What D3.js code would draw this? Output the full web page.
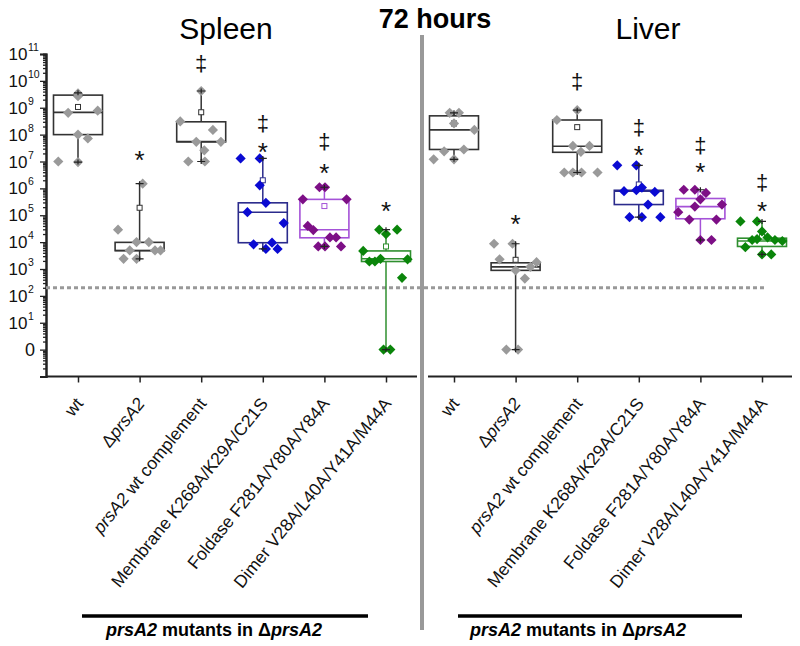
<!DOCTYPE html>
<html><head><meta charset="utf-8">
<script src="https://cdn.jsdelivr.net/npm/d3@7"></script>
<style>body{margin:0;background:#fff}svg{display:block}</style>
</head><body>
<svg id="chart" width="800" height="646"></svg>
<script>
// ---------------- DATA ----------------
const categories = ["wt","ΔprsA2","prsA2 wt complement","Membrane K268A/K29A/C21S","Foldase F281A/Y80A/Y84A","Dimer V28A/L40A/Y41A/M44A"];
// label fragments: [text, italic]
const categoryLabelParts = [
  [["wt",false]],
  [["Δ",false],["prsA2",true]],
  [["prsA2",true],[" wt complement",false]],
  [["Membrane K268A/K29A/C21S",false]],
  [["Foldase F281A/Y80A/Y84A",false]],
  [["Dimer V28A/L40A/Y41A/M44A",false]]
];
const panels = ["Spleen","Liver"];
const title = "72 hours";
const groupLabelParts = [["prsA2",true],[" mutants in ",false],["Δ",false],["prsA2",true]];
const detectionLimit = 200;
const yTickExponents = [0,1,2,3,4,5,6,7,8,9,10,11];

// Spleen – individual CFU values per group
const spleenValues = [
  [3.4e9,2.7e9,6.5e8,7.8e8,1.0e8,7.2e7,1.0e7,9.5e6],
  [1.5e6,2.9e4,1.0e4,1.0e4,4.9e3,4.9e3,4.9e3,2.4e3,2.4e3],
  [4.2e9,3.1e8,1.5e8,5.4e7,5.4e7,2.6e7,1.0e7,1.0e7],
  [1.3e7,1.3e7,1.3e6,2.9e5,1.3e5,5.1e4,8.3e3,9.5e3,5.6e3,5.6e3],
  [1.1e6,1.1e6,3.9e5,3.9e5,4.0e4,2.8e4,1.5e4,1.5e4,6.9e3,6.9e3,6.9e3],
  [2.9e4,2.9e4,2.0e4,4.7e3,1.9e3,1.9e3,2.4e3,2.3e3,4.7e2,1,1]
];
const spleenJitter = [
  [0,0,-0.16,0.32,0,0.16,-0.32,0],
  [0.05,-0.35,-0.05,0.15,-0.16,0.25,0.34,-0.26,-0.05],
  [0,-0.34,0.19,-0.08,0.32,0.05,-0.21,0.06],
  [-0.36,-0.05,-0.05,0.05,-0.25,0.34,-0.15,0.15,0.05,0.24],
  [-0.08,0.01,-0.35,0.36,-0.27,-0.18,0.09,0.19,-0.1,0.01,0.27],
  [-0.11,0.18,0,-0.37,-0.27,-0.18,-0.09,0.35,0.26,-0.04,0.07]
];
const spleenQ1     = [1.0e8, 4.8e3, 5.4e7, 9.5e3, 1.45e4, 1.9e3];
const spleenMedian = [6.7e8, 4.9e3, 5.5e7, 1.3e5, 2.9e4, 2.4e3];
const spleenQ3     = [2.95e9,9.8e3, 3.0e8, 2.9e5, 3.9e5, 4.7e3];
const spleenMin    = [9.5e6, 2.4e3, 1.0e7, 5.6e3, 6.9e3, 1];
const spleenMax    = [3.6e9, 1.5e6, 4.2e9, 1.3e7, 1.1e6, 2.9e4];
const spleenMean   = [1.07e9,1.9e5, 6.8e8, 2.0e6, 2.2e5, 6.9e3];
const spleenDagger = [null, null, 3.9e10, 2.2e8, 4.7e7, null];
const spleenStar   = [null, 1.7e7, null, 3.5e7, 5.5e6, 2.3e5];

// Liver – individual CFU values per group
const liverValues = [
  [6.5e8,6.5e8,2.6e8,1.5e8,2.4e7,2.8e7,1.2e7,1.2e7],
  [8.7e3,8.7e3,2.3e3,8.9e2,1.8e3,1.2e3,4.4e2,1,1],
  [8.1e8,3.5e8,3.8e7,3.8e7,2.3e7,3.9e6,3.9e6,3.9e6,3.9e6],
  [7.2e6,7.2e6,7.9e5,8.5e5,1.07e6,7.4e5,2.5e5,8.5e4,8.5e4,8.5e4],
  [8.9e5,8.9e5,6.8e5,3.9e5,2.5e5,2.1e5,1.3e5,6.9e4,6.9e4,1.2e4,1.2e4],
  [5.9e4,5.9e4,2.5e4,1.5e4,1.2e4,1.3e4,6.5e3,3.5e3,1.2e4,1.1e4,3.5e3]
];
const liverJitter = [
  [-0.07,0.08,0,0.33,-0.16,0.16,-0.33,0],
  [-0.35,-0.05,-0.26,0,0.34,0.24,0.15,-0.15,0.04],
  [0,-0.33,-0.07,0.2,0.06,-0.21,-0.07,0.07,0.33],
  [-0.35,-0.04,-0.24,-0.04,0.05,0.26,0.15,-0.15,0.05,0.35],
  [-0.27,-0.09,0.09,0,0.35,-0.09,-0.36,-0.18,0.26,0,0.18],
  [-0.35,-0.08,0,0.09,-0.16,-0.08,-0.27,0,0.21,0.33,0.15]
];
const liverQ1     = [2.8e7, 8.9e2, 2.2e7, 2.5e5, 7.4e4, 6.9e3];
const liverMedian = [1.5e8, 1.2e3, 3.7e7, 7.9e5, 2.1e5, 1.1e4];
const liverQ3     = [5.0e8, 1.7e3, 3.5e8, 8.5e5, 4.2e5, 1.4e4];
const liverMin    = [1.2e7, 1,     3.9e6, 8.5e4, 1.2e4, 3.5e3];
const liverMax    = [6.5e8, 8.7e3, 8.1e8, 7.2e6, 8.9e5, 5.9e4];
const liverMean   = [2.6e8, 2.2e3, 1.9e8, 1.4e6, 6.0e5, 1.6e4];
const liverDagger = [null, null, 8.1e9, 1.6e8, 3.5e7, 1.5e6];
const liverStar   = [null, 7.4e4, null, 2.6e7, 6.3e6, 2.3e5];

// ---------------- STYLE ----------------
const pointColors = ["#9a9a9a","#9a9a9a","#9a9a9a","#0a0ad2","#7d0f86","#0a850a"];
const boxColors   = ["#333333","#333333","#333333","#2b2b8c","#a552d8","#2f8f2f"];
const font = "'Liberation Sans', Arial, Helvetica, sans-serif";

// ---------------- DRAW ----------------
const svg = d3.select("#chart");
const yTop = 54, yBottom = 376.5, axisX = 46;
const y = d3.scaleLog().domain([0.1, 1e11]).range([yBottom, yTop]);

const xs = [
  d3.scalePoint().domain(categories).range([78, 386]),
  d3.scalePoint().domain(categories).range([454, 762])
];
const axisSpans = [[axisX, 417],[428, 792]];
const boxW = 49;

// titles
svg.append("text").attr("x",226).attr("y",39).attr("text-anchor","middle")
  .attr("font-family",font).attr("font-size",30).text(panels[0]);
svg.append("text").attr("x",648).attr("y",39).attr("text-anchor","middle")
  .attr("font-family",font).attr("font-size",30).text(panels[1]);
svg.append("text").attr("x",435).attr("y",28).attr("text-anchor","middle")
  .attr("font-family",font).attr("font-size",27).attr("font-weight","bold").text(title);

// separator
svg.append("line").attr("x1",422).attr("x2",422).attr("y1",35).attr("y2",630)
  .attr("stroke","#999").attr("stroke-width",4);

// y axis (major and minor ticks)
const majorTicks = d3.range(-1, 12).map(e => Math.pow(10, e));
const minorTicks = [];
for (let e = -1; e < 11; e++) for (let k = 2; k <= 9; k++) minorTicks.push(k * Math.pow(10, e));
const yAxisG = svg.append("g").attr("transform",`translate(${axisX},0)`);
yAxisG.call(d3.axisLeft(y).tickValues(minorTicks).tickSize(3).tickFormat(""));
yAxisG.append("g").call(d3.axisLeft(y).tickValues(majorTicks).tickSize(6).tickFormat(""));
yAxisG.selectAll("path.domain").attr("stroke","#222").attr("stroke-width",2);
yAxisG.selectAll(".tick line").attr("stroke","#222").attr("stroke-width",1.3);

// y tick labels
yTickExponents.forEach(e => {
  const yy = y(Math.pow(10, e));
  if (e === 0) {
    svg.append("text").attr("x",35).attr("y",yy+6.5).attr("text-anchor","end")
      .attr("font-family",font).attr("font-size",18).attr("fill","#111").text("0");
  } else {
    svg.append("text").attr("x",27.5).attr("y",yy+6).attr("text-anchor","end")
      .attr("font-family",font).attr("font-size",17).attr("fill","#111").text("10");
    svg.append("text").attr("x",28).attr("y",yy-3).attr("text-anchor","start")
      .attr("font-family",font).attr("font-size",10.5).attr("fill","#111").text(String(e));
  }
});

// detection limit dashed line
svg.append("line").attr("x1",axisX).attr("x2",765)
  .attr("y1",y(detectionLimit)).attr("y2",y(detectionLimit))
  .attr("stroke","#999").attr("stroke-width",3).attr("stroke-dasharray","4,3");

const panelData = [
  {vals:spleenValues, jit:spleenJitter, q1:spleenQ1, med:spleenMedian, q3:spleenQ3, mn:spleenMin, mx:spleenMax, mean:spleenMean, dag:spleenDagger, star:spleenStar},
  {vals:liverValues, jit:liverJitter, q1:liverQ1, med:liverMedian, q3:liverQ3, mn:liverMin, mx:liverMax, mean:liverMean, dag:liverDagger, star:liverStar}
];

const diamond = d3.symbol().type(d3.symbolSquare).size(52)();

panelData.forEach((pd, p) => {
  const x = xs[p];
  const step = x.step();
  // x axis
  const xg = svg.append("g").attr("transform",`translate(0,${yBottom})`);
  xg.append("line").attr("x1",axisSpans[p][0]).attr("x2",axisSpans[p][1])
    .attr("stroke","#222").attr("stroke-width",2);
  const ag = xg.append("g").call(d3.axisBottom(x).tickSize(6).tickFormat(""));
  ag.select("path.domain").remove();
  ag.selectAll(".tick line").attr("stroke","#222").attr("stroke-width",1.5);

  // x labels
  categories.forEach((c, i) => {
    const t = svg.append("text")
      .attr("transform",`translate(${x(c)+6},404) rotate(-51)`)
      .attr("text-anchor","end").attr("font-family",font).attr("font-size",17.5).attr("fill","#111");
    categoryLabelParts[i].forEach(([s, it]) => {
      t.append("tspan").attr("font-style", it ? "italic" : "normal").text(s);
    });
  });

  categories.forEach((c, i) => {
    const cx = x(c);
    const col = boxColors[i];
    const g = svg.append("g");
    // whiskers
    g.append("line").attr("x1",cx).attr("x2",cx).attr("y1",y(pd.q3[i])).attr("y2",y(pd.mx[i]))
      .attr("stroke",col).attr("stroke-width",1.5);
    g.append("line").attr("x1",cx).attr("x2",cx).attr("y1",y(pd.q1[i])).attr("y2",y(pd.mn[i]))
      .attr("stroke",col).attr("stroke-width",1.5);
    // box
    g.append("rect").attr("x",cx-boxW/2).attr("width",boxW)
      .attr("y",y(pd.q3[i])).attr("height",Math.max(1,y(pd.q1[i])-y(pd.q3[i])))
      .attr("fill","none").attr("stroke",col).attr("stroke-width",1.6);
    g.append("line").attr("x1",cx-boxW/2).attr("x2",cx+boxW/2)
      .attr("y1",y(pd.med[i])).attr("y2",y(pd.med[i])).attr("stroke",col).attr("stroke-width",1.6);
    // mean marker
    g.append("rect").attr("x",cx-2.5).attr("y",y(pd.mean[i])-2.5).attr("width",5).attr("height",5)
      .attr("fill","white").attr("stroke",col).attr("stroke-width",1);
    // points
    g.selectAll("path.pt").data(pd.vals[i]).join("path").attr("class","pt")
      .attr("d",diamond)
      .attr("transform",(v,j) => `translate(${cx + pd.jit[i][j]*step},${y(v)}) rotate(45)`)
      .attr("fill",pointColors[i]);
    // min / max markers
    [pd.mn[i], pd.mx[i]].forEach(v => {
      const yy = y(v);
      g.append("path").attr("d",`M${cx-4},${yy}L${cx+4},${yy}M${cx},${yy-2.5}L${cx},${yy+2.5}`)
        .attr("stroke","#222").attr("stroke-width",1.2).attr("fill","none");
    });
    // significance marks
    if (pd.dag[i] != null) {
      svg.append("text").attr("x",cx).attr("y",y(pd.dag[i])+6).attr("text-anchor","middle")
        .attr("font-family",font).attr("font-size",22).attr("fill","#111").text("‡");
    }
    if (pd.star[i] != null) {
      svg.append("text").attr("x",cx).attr("y",y(pd.star[i])+14).attr("text-anchor","middle")
        .attr("font-family",font).attr("font-size",26).attr("fill","#111").text("*");
    }
  });
});

// group bars + captions
const groupBars = [[82,368,214],[458,742,578]];
groupBars.forEach(([x1,x2,cx]) => {
  svg.append("line").attr("x1",x1).attr("x2",x2).attr("y1",616).attr("y2",616)
    .attr("stroke","#000").attr("stroke-width",3.5);
  const t = svg.append("text").attr("x",cx).attr("y",636).attr("text-anchor","middle")
    .attr("font-family",font).attr("font-size",18).attr("font-weight","bold").attr("fill","#000");
  groupLabelParts.forEach(([s,it]) => t.append("tspan").attr("font-style", it ? "italic" : "normal").text(s));
});
</script>
</body></html>
